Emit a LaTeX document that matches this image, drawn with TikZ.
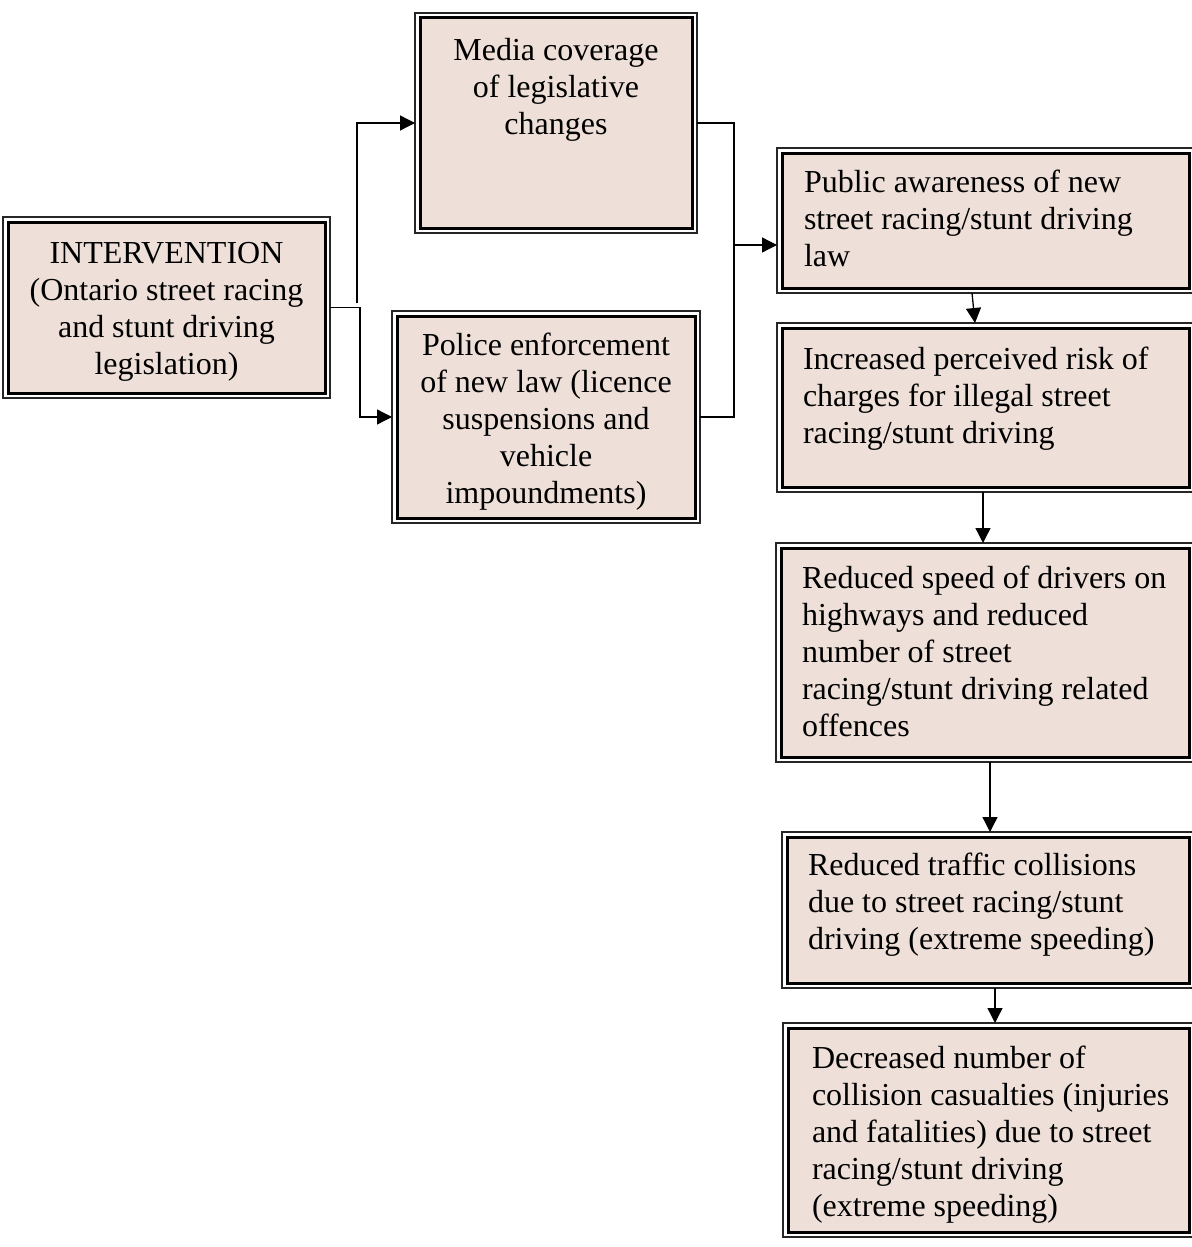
\documentclass[tikz,border=0pt]{standalone}
\usepackage{fontspec}
\setmainfont{Liberation Serif}
\usetikzlibrary{arrows.meta,calc}
\definecolor{boxfill}{RGB}{238,224,217}
\newcommand{\mybxc}[4]{\parbox[c][#2][t]{#1}{\vspace*{#3}\centering\strut #4\par}}
\newcommand{\mybxl}[5]{\parbox[c][#2][t]{#1}{\vspace*{#3}\raggedright\leftskip=#4\relax\strut #5\par}}
\tikzset{
  bx/.style={draw=black, line width=1.5pt, fill=boxfill, inner sep=0pt, outer sep=2.5pt,
    font=\fontsize{16pt}{18.5pt}\selectfont},
  outerline/.style={draw=black!85, line width=0.55pt},
  conn/.style={draw=black, line width=0.65pt},
  arr/.style={conn, -{Triangle[length=7.5pt,width=7.5pt]}}
}
\begin{document}
\begin{tikzpicture}[x=0.5pt,y=-0.5pt]
\useasboundingbox (0,0) rectangle (1192,1247);

\node[bx] (intv) at (166.5,307.5) {\mybxc{158.5pt}{85.5pt}{7.8pt}{INTERVENTION\\(Ontario street racing\\and stunt driving\\legislation)}};
\node[bx] (media) at (556,123) {\mybxc{136pt}{105pt}{8.05pt}{Media coverage\\of legislative\\changes}};
\node[bx] (police) at (546,417) {\mybxc{149pt}{101pt}{6.8pt}{Police enforcement\\of new law (licence\\suspensions and\\vehicle\\impoundments)}};
\node[bx] (public) at (985.5,220.5) {\mybxl{203.5pt}{67.5pt}{6.8pt}{11pt}{Public awareness of new\\street racing/stunt driving\\law}};
\node[bx] (incr) at (985.5,407.5) {\mybxl{203.5pt}{79.5pt}{7.8pt}{10.5pt}{Increased perceived risk of\\charges for illegal street\\racing/stunt driving}};
\node[bx] (speed) at (985,652.5) {\mybxl{204pt}{104.5pt}{7.3pt}{10.5pt}{Reduced speed of drivers on\\highways and reduced\\number of street\\racing/stunt driving related\\offences}};
\node[bx] (traffic) at (988,910) {\mybxl{201pt}{73pt}{6.3pt}{10.5pt}{Reduced traffic collisions\\due to street racing/stunt\\driving (extreme speeding)}};
\node[bx] (dec) at (988.5,1130) {\mybxl{200.5pt}{102pt}{7.3pt}{12pt}{Decreased number of\\collision casualties (injuries\\and fatalities) due to street\\racing/stunt driving\\(extreme speeding)}};

\foreach \n in {intv,media,police,public,incr,speed,traffic,dec}
  \draw[outerline] (\n.north west) rectangle (\n.south east);

% connectors
\coordinate (s1) at (357,303);
\coordinate (j1) at (360,0);
\coordinate (j2) at (734,0);
\coordinate (a3) at (734,245);
\draw[arr] (s1) |- (media.west);
\draw[arr] (intv.east) -| (j1 |- police.west) -- (police.west);
\draw[conn] (media.east) -| (j2 |- police.east) -- (police.east);
\draw[arr] (a3) -- (a3 -| public.west);
\draw[arr] ([shift={(-13.5,0)}]public.south) -- ([shift={(-10.5,0)}]incr.north);
\draw[arr] ([shift={(-2.5,0)}]incr.south) -- ([shift={(-2,0)}]speed.north);
\draw[arr] ([shift={(5,0)}]speed.south) -- ([shift={(2,0)}]traffic.north);
\draw[arr] ([shift={(7,0)}]traffic.south) -- ([shift={(6.5,0)}]dec.north);
\end{tikzpicture}
\end{document}
